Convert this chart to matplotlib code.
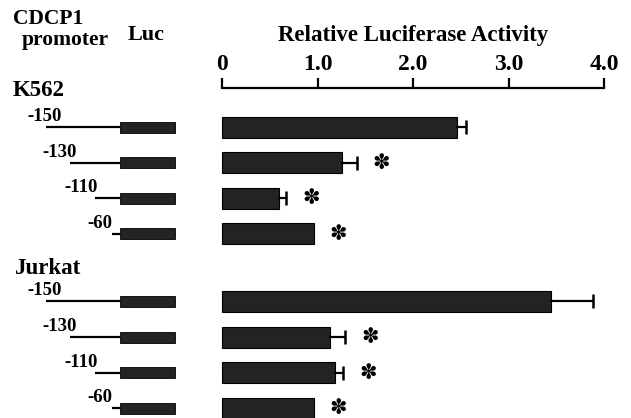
import numpy as np
import matplotlib
matplotlib.use("Agg")
import matplotlib.pyplot as plt

# data
constructs = ['-150', '-130', '-110', '-60']
k562_vals = [2.46, 1.26, 0.60, 0.96]
k562_err = [0.10, 0.15, 0.07, 0.0]
jurkat_vals = [3.44, 1.13, 1.18, 0.96]
jurkat_err = [0.44, 0.16, 0.09, 0.0]
signif = [False, True, True, True]
ticks = [0, 1, 2, 3, 4]
tick_labels = ['0', '1.0', '2.0', '3.0', '4.0']

# layout (pixels on a 631x418 canvas)
W, H = 631, 418
k562_rows = np.array([0, 1, 2, 3])
jurkat_rows = np.array([4.9, 5.9, 6.9, 7.9])
line_start = [46, 70, 95, 112]
label_x = [45, 60, 81, 100]
box_left, box_right = 120, 175

plt.rcParams['font.family'] = ['Liberation Serif', 'DejaVu Serif']
plt.rcParams['font.weight'] = 'bold'

fig = plt.figure(figsize=(W / 100, H / 100), dpi=100)

row_px = 35.6
top_px, y0_px = 88, 127
ylim = ((H - y0_px) / row_px, (top_px - y0_px) / row_px)
ax_h = (H - top_px) / H

# bar panel
ax = fig.add_axes([222 / W, 0, (604 - 222) / W, ax_h])
ax.set_xlim(0, 4)
ax.set_ylim(*ylim)
for s in ['left', 'right', 'bottom']:
    ax.spines[s].set_visible(False)
ax.spines['top'].set_linewidth(1.6)
ax.xaxis.tick_top()
ax.set_xticks(ticks)
ax.set_xticklabels(tick_labels, fontsize=17, fontweight='bold')
ax.tick_params(axis='x', direction='out', length=7.5, width=1.6, pad=1.5)
ax.set_yticks([])

bar_color = '#232323'
for rows, vals, errs in [(k562_rows, k562_vals, k562_err),
                         (jurkat_rows, jurkat_vals, jurkat_err)]:
    ax.barh(rows, vals, height=21 / row_px, color=bar_color, edgecolor='black',
            linewidth=0.8, clip_on=False)
    for r, val, err, s in zip(rows, vals, errs, signif):
        if err > 0:
            ax.plot([val, val + err], [r, r], color='black', lw=1.6,
                    clip_on=False)
            ax.plot([val + err], [r], marker='|', ms=10, mew=1.8,
                    color='black', clip_on=False)
        if s:
            ax.annotate('\u273d', xy=(val + err, r), xytext=(18, 0),
                        textcoords='offset points', ha='center', va='center',
                        fontsize=15, family='DejaVu Sans', annotation_clip=False)

ax.set_title('Relative Luciferase Activity', fontsize=16.5, fontweight='bold',
             pad=34)

# promoter construct schematic
axl = fig.add_axes([0, 0, 222 / W, ax_h])
axl.set_xlim(0, 222)
axl.set_ylim(*ylim)
axl.axis('off')
for rows in [k562_rows, jurkat_rows]:
    axl.hlines(rows, line_start, box_left, color='black', linewidth=1.6)
    axl.barh(rows, box_right - box_left, left=box_left, height=11 / row_px,
             color=bar_color, edgecolor='black', linewidth=0.6)
    for r, lx, name in zip(rows, label_x, constructs):
        axl.text(lx, r - 0.17, name, ha='center', va='baseline', fontsize=13.5,
                 fontweight='bold')

def fx(x):
    return x / W

def fy(y):
    return 1 - y / H

fig.text(fx(13), fy(19), 'CDCP1', fontsize=15.5, fontweight='bold', va='center')
fig.text(fx(22), fy(40), 'promoter', fontsize=15.5, fontweight='bold', va='center')
fig.text(fx(128), fy(35), 'Luc', fontsize=16, fontweight='bold', va='center')
fig.text(fx(13), fy(91), 'K562', fontsize=16.5, fontweight='bold', va='center')
fig.text(fx(15), fy(268), 'Jurkat', fontsize=16.5, fontweight='bold', va='center')

fig.savefig('out.png', dpi=100)
